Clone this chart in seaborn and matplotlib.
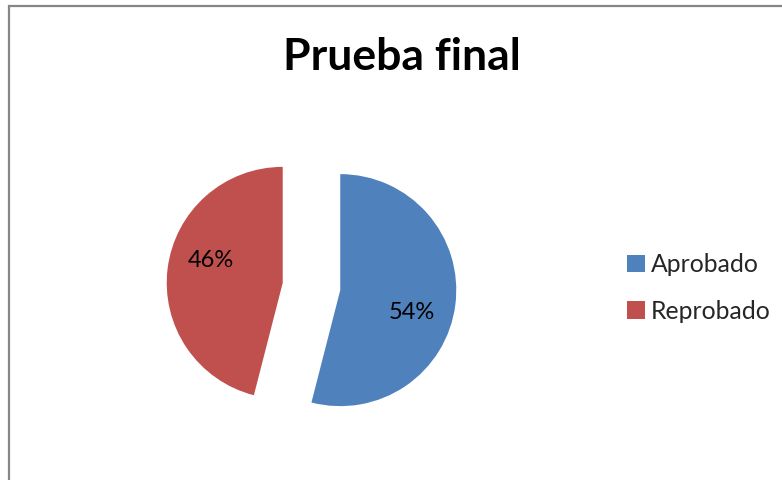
import matplotlib
matplotlib.use("Agg")
import matplotlib.pyplot as plt
import numpy as np
import seaborn as sns
from matplotlib.patches import Rectangle

categories = ["Aprobado", "Reprobado"]
values = [54, 46]
colors = ["#4F81BD", "#C0504D"]
title = "Prueba final"

sns.set_theme(style="white")
plt.rcParams["font.family"] = ["Lato", "DejaVu Sans"]

W, H = 782, 480
fig = plt.figure(figsize=(W / 100, H / 100), dpi=100)
fig.patch.set_facecolor("white")

# frame around the chart area (cut off at right/bottom like the original)
fig.patches.append(Rectangle((9 / W, -0.1), 1.2, (H - 6) / H + 0.1,
                             transform=fig.transFigure, fill=False,
                             edgecolor="#868686", linewidth=1.6))

ax = fig.add_axes([0, 0, 1, 1])
cx, cy, r = 311.5, H - 286.5, 116
# matplotlib's explode offset is absolute, so scale it by the radius
wedges, texts, autotexts = ax.pie(
    values, colors=colors, startangle=90, counterclock=False,
    explode=[0.25 * r, 0.25 * r], radius=r, center=(cx, cy),
    autopct="%1.0f%%", pctdistance=0.65,
    textprops=dict(fontsize=17, color="black"),
    wedgeprops=dict(linewidth=0))

# nudge labels a bit clockwise from the slice bisector, as in the original
for w, t in zip(wedges, autotexts):
    mid = np.deg2rad((w.theta1 + w.theta2) / 2 - 10)
    x0, y0 = w.center
    t.set_position((x0 + 0.65 * r * np.cos(mid), y0 + 0.65 * r * np.sin(mid)))

ax.set_xlim(0, W)
ax.set_ylim(0, H)
ax.set_aspect("equal")
ax.axis("off")

fig.text(402 / W, 1 - 57 / H, title, ha="center", va="center",
         fontsize=32, fontweight="bold", color="black")

fig.legend(wedges, categories, loc="center left",
           bbox_to_anchor=(605 / W, 1 - 288 / H), frameon=False,
           fontsize=17.8, handlelength=0.7, handleheight=0.7,
           handletextpad=0.25, labelspacing=0.95)

fig.savefig("out.png", dpi=100, facecolor="white")
